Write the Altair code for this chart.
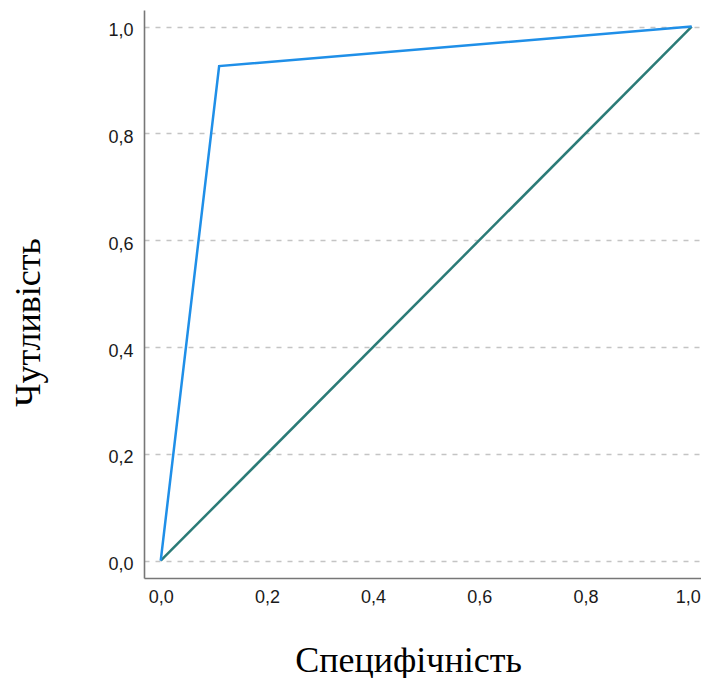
import altair as alt
import pandas as pd

roc_x = [0.0, 0.110, 1.0]
roc_y = [0.0, 0.926, 1.0]
diag_x = [0.0, 1.0]
diag_y = [0.0, 1.0]
ticks = [0.0, 0.2, 0.4, 0.6, 0.8, 1.0]

roc = pd.DataFrame({"x": roc_x, "y": roc_y, "o": list(range(len(roc_x)))})
diag = pd.DataFrame({"x": diag_x, "y": diag_y, "o": list(range(len(diag_x)))})

lab = "replace(format(datum.value, '.1f'), '.', ',')"

xenc = alt.X("x:Q", scale=alt.Scale(domain=[-0.0315, 1.0175], nice=False, zero=False),
             axis=alt.Axis(values=ticks, labelExpr=lab, grid=False, ticks=False,
                           title="Специфічність", titleX=264, titleY=82,
                           titleAlign="center", titleBaseline="middle",
                           labelPadding=10,
                           labelOffset={"condition": {"test": "datum.value == 1", "value": -4},
                                        "value": 0}))
yenc = alt.Y("y:Q", scale=alt.Scale(domain=[-0.0324, 1.031], nice=False, zero=False),
             axis=alt.Axis(values=ticks, labelExpr=lab, grid=True, ticks=False,
                           gridDash=[5, 6], gridColor="#c4c4c4", gridWidth=1.3,
                           title="Чутливість", titleX=-116, titleY=312,
                           titleAngle=-90, titleAlign="center", titleBaseline="middle",
                           labelPadding=11, labelOffset=4))

diag_line = alt.Chart(diag).mark_line(color="#2b7b77", strokeWidth=2.5).encode(
    x=xenc, y=yenc, order="o:Q")
roc_line = alt.Chart(roc).mark_line(color="#1f8fe8", strokeWidth=2.5).encode(
    x=xenc, y=yenc, order="o:Q")

chart = alt.layer(diag_line, roc_line).properties(
    width=557, height=568,
    autosize=alt.AutoSizeParams(type="none"),
    padding={"left": 136, "top": 2, "right": 0, "bottom": 100},
).configure_view(stroke=None).configure_axis(
    domainColor="#777777", domainWidth=1.6,
    labelFont="Liberation Sans", labelFontSize=18, labelColor="#1a1a1a",
    titleFont="Liberation Serif", titleFontSize=36, titleFontWeight="normal",
    titleColor="#000000",
)

chart.save("out.html", embed_options={"renderer": "svg", "actions": False})
